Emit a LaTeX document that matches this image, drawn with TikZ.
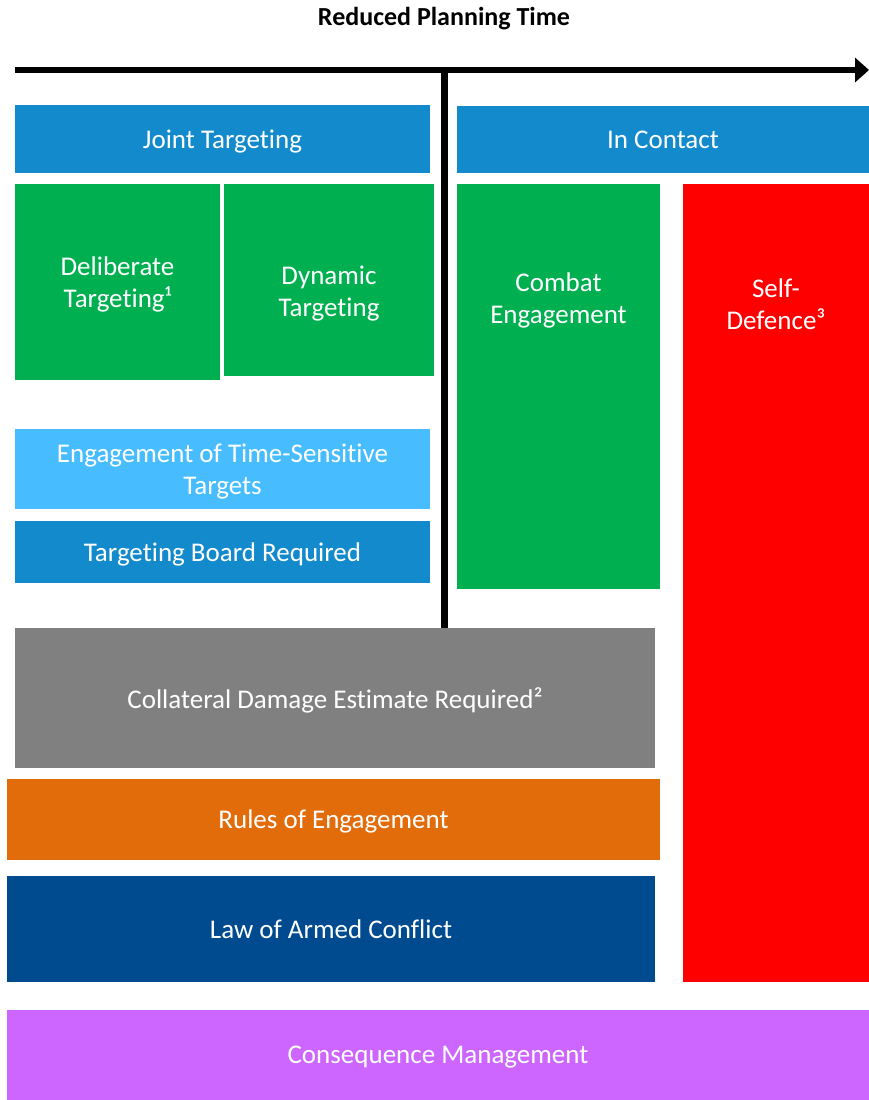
\documentclass[tikz,border=0pt]{standalone}
\usepackage{fontspec}
\setmainfont{Carlito}[Ligatures=NoCommon]
\usetikzlibrary{arrows.meta,calc}
\definecolor{jtblue}{HTML}{138ACC}
\definecolor{tgreen}{HTML}{00B050}
\definecolor{tstblue}{HTML}{47BDFF}
\definecolor{cdegrey}{HTML}{808080}
\definecolor{roeorange}{HTML}{E36C0A}
\definecolor{loacblue}{HTML}{004A8F}
\definecolor{cmpurple}{HTML}{CC66FF}
\tikzset{
  box/.style={rectangle, inner sep=0pt, text depth=0pt, text=white, align=center, font=\fontsize{27}{32}\selectfont},
  lbl/.style={text=white, align=center, font=\fontsize{27}{32}\selectfont},
}
\begin{document}
\begin{tikzpicture}[x=1pt, y=-1pt]
            \useasboundingbox[fill=white] (0,0) rectangle (869,1100);
            \node[font=\bfseries\fontsize{26}{30}\selectfont] (title) at (444,19) {Reduced Planning Time};
            % time axis
            \coordinate (tstart) at (15,70);
            \coordinate (tend) at (869,70);
            \coordinate (split) at (444.5,70);
            \coordinate (splitend) at (444.5,628);
            \draw[line width=7pt] (split) -- (splitend);
            \draw[line width=6pt, -{Triangle[length=14pt, width=24pt]}] (tstart) -- (tend);
            % left column
            \node[box, fill=jtblue, minimum width=415, minimum height=68] (joint) at (222.5,139) {Joint Targeting};
            \node[box, fill=tgreen, minimum width=205, minimum height=196] (delib) at (117.5,282) {Deliberate\\Targeting¹};
            \node[box, fill=tgreen, minimum width=210, minimum height=192] (dyn) at (329,280) {};
            \node[lbl] (dyntext) at ($(dyn.north)+(0,110)$) {Dynamic\\Targeting};
            \node[box, fill=tstblue, minimum width=415, minimum height=80] (tst) at (222.5,469) {Engagement of Time-Sensitive\\Targets};
            \node[box, fill=jtblue, minimum width=415, minimum height=62] (board) at (222.5,552) {Targeting Board Required};
            % right column
            \node[box, fill=jtblue, minimum width=412, minimum height=67] (contact) at (663,139.5) {In Contact};
            \node[box, fill=tgreen, minimum width=203, minimum height=405] (combat) at (558.5,386.5) {};
            \node[lbl] (combattext) at ($(combat.north)+(0,117)$) {Combat\\Engagement};
            \node[box, fill=red, minimum width=186, minimum height=798] (self) at (776,583) {};
            \node[lbl] (selftext) at ($(self.north)+(0,120)$) {Self-\\Defence³};
            % lower bands
            \node[box, fill=cdegrey, minimum width=640, minimum height=140] (cde) at (335,698) {Collateral Damage Estimate Required²};
            \node[box, fill=roeorange, minimum width=653, minimum height=81] (roe) at (333.5,819.5) {Rules of Engagement};
            \node[box, fill=loacblue, minimum width=648, minimum height=106] (loac) at (331,929) {Law of Armed Conflict};
            \node[box, fill=cmpurple, minimum width=862, minimum height=90] (conseq) at (438,1055) {Consequence Management};
\end{tikzpicture}
\end{document}
